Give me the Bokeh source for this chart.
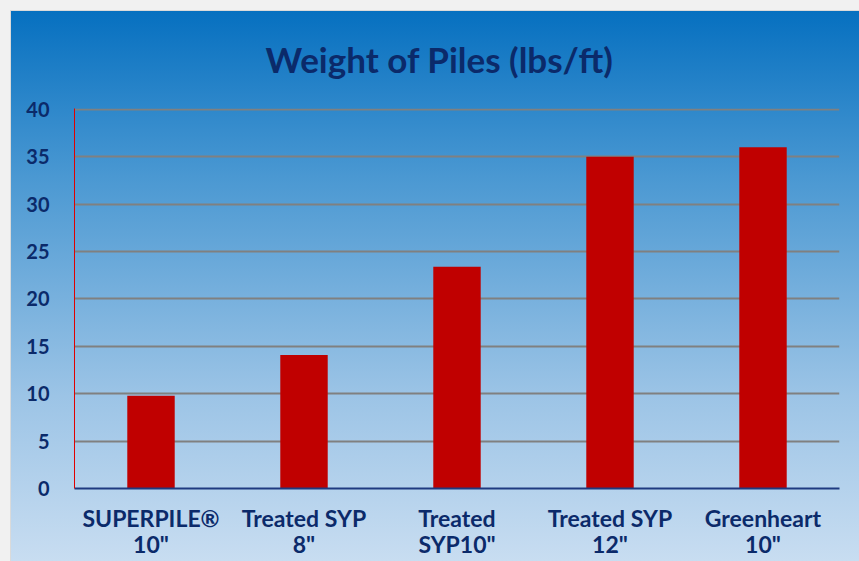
from bokeh.plotting import figure
from bokeh.models import Range1d, FactorRange, SingleIntervalTicker
from bokeh.embed import file_html
from bokeh.resources import INLINE

categories = ["SUPERPILE®\n10\"", "Treated SYP\n8\"", "Treated\nSYP10\"", "Treated SYP\n12\"", "Greenheart\n10\""]
weights = [9.8, 14.1, 23.4, 35.0, 36.0]
y_ticks_interval = 5

NAVY = "#0b2a6a"

bg = ("linear-gradient(180deg, #0670c0 0%, #4a98d2 30%, #9cc4e6 70%, #c8ddf1 100%) 11px 11px / 848px 550px no-repeat, "
      "linear-gradient(#dadada, #dadada) 10px 10px / 849px 551px no-repeat, #f1f1f1")

p = figure(
    x_range=FactorRange(*categories),
    y_range=Range1d(0, 40.1),
    width=859, height=561,
    output_backend="svg", toolbar_location=None,
    min_border_left=74, min_border_right=20, min_border_top=108, min_border_bottom=73,
    title="Weight of Piles (lbs/ft)",
    styles={"background": bg},
)
p.border_fill_alpha = 0
p.background_fill_alpha = 0
p.outline_line_color = None

p.title.text_font = "Lato"
p.title.text_font_size = "35px"
p.title.text_font_style = "bold"
p.title.text_color = NAVY
p.title.align = "left"
p.title.offset = 191
p.title.standoff = 58

p.vbar(x=categories, top=weights, width=0.31, color="#c00000", line_color=None)

# y axis
yax = p.yaxis[0]
yax.ticker = SingleIntervalTicker(interval=y_ticks_interval)
yax.axis_line_color = "#e00000"
yax.axis_line_width = 1
yax.major_tick_line_color = None
yax.minor_tick_line_color = None
yax.major_tick_out = 0
yax.major_tick_in = 0
yax.major_label_standoff = 21
yax.major_label_text_font = "Lato"
yax.major_label_text_font_size = "20px"
yax.major_label_text_font_style = "bold"
yax.major_label_text_color = NAVY

# x axis
xax = p.xaxis[0]
xax.axis_line_color = "#1f3a80"
xax.axis_line_width = 2
xax.major_tick_line_color = None
xax.major_tick_out = 0
xax.major_tick_in = 0
xax.major_label_standoff = 15
xax.major_label_text_font = "Lato"
xax.major_label_text_font_size = "23px"
xax.major_label_text_font_style = "bold"
xax.major_label_text_color = NAVY
xax.major_label_text_line_height = 0.95

p.xgrid.grid_line_color = None
p.ygrid.grid_line_color = "#808080"
p.ygrid.grid_line_width = 2

open("out.html", "w").write(file_html(p, INLINE))
